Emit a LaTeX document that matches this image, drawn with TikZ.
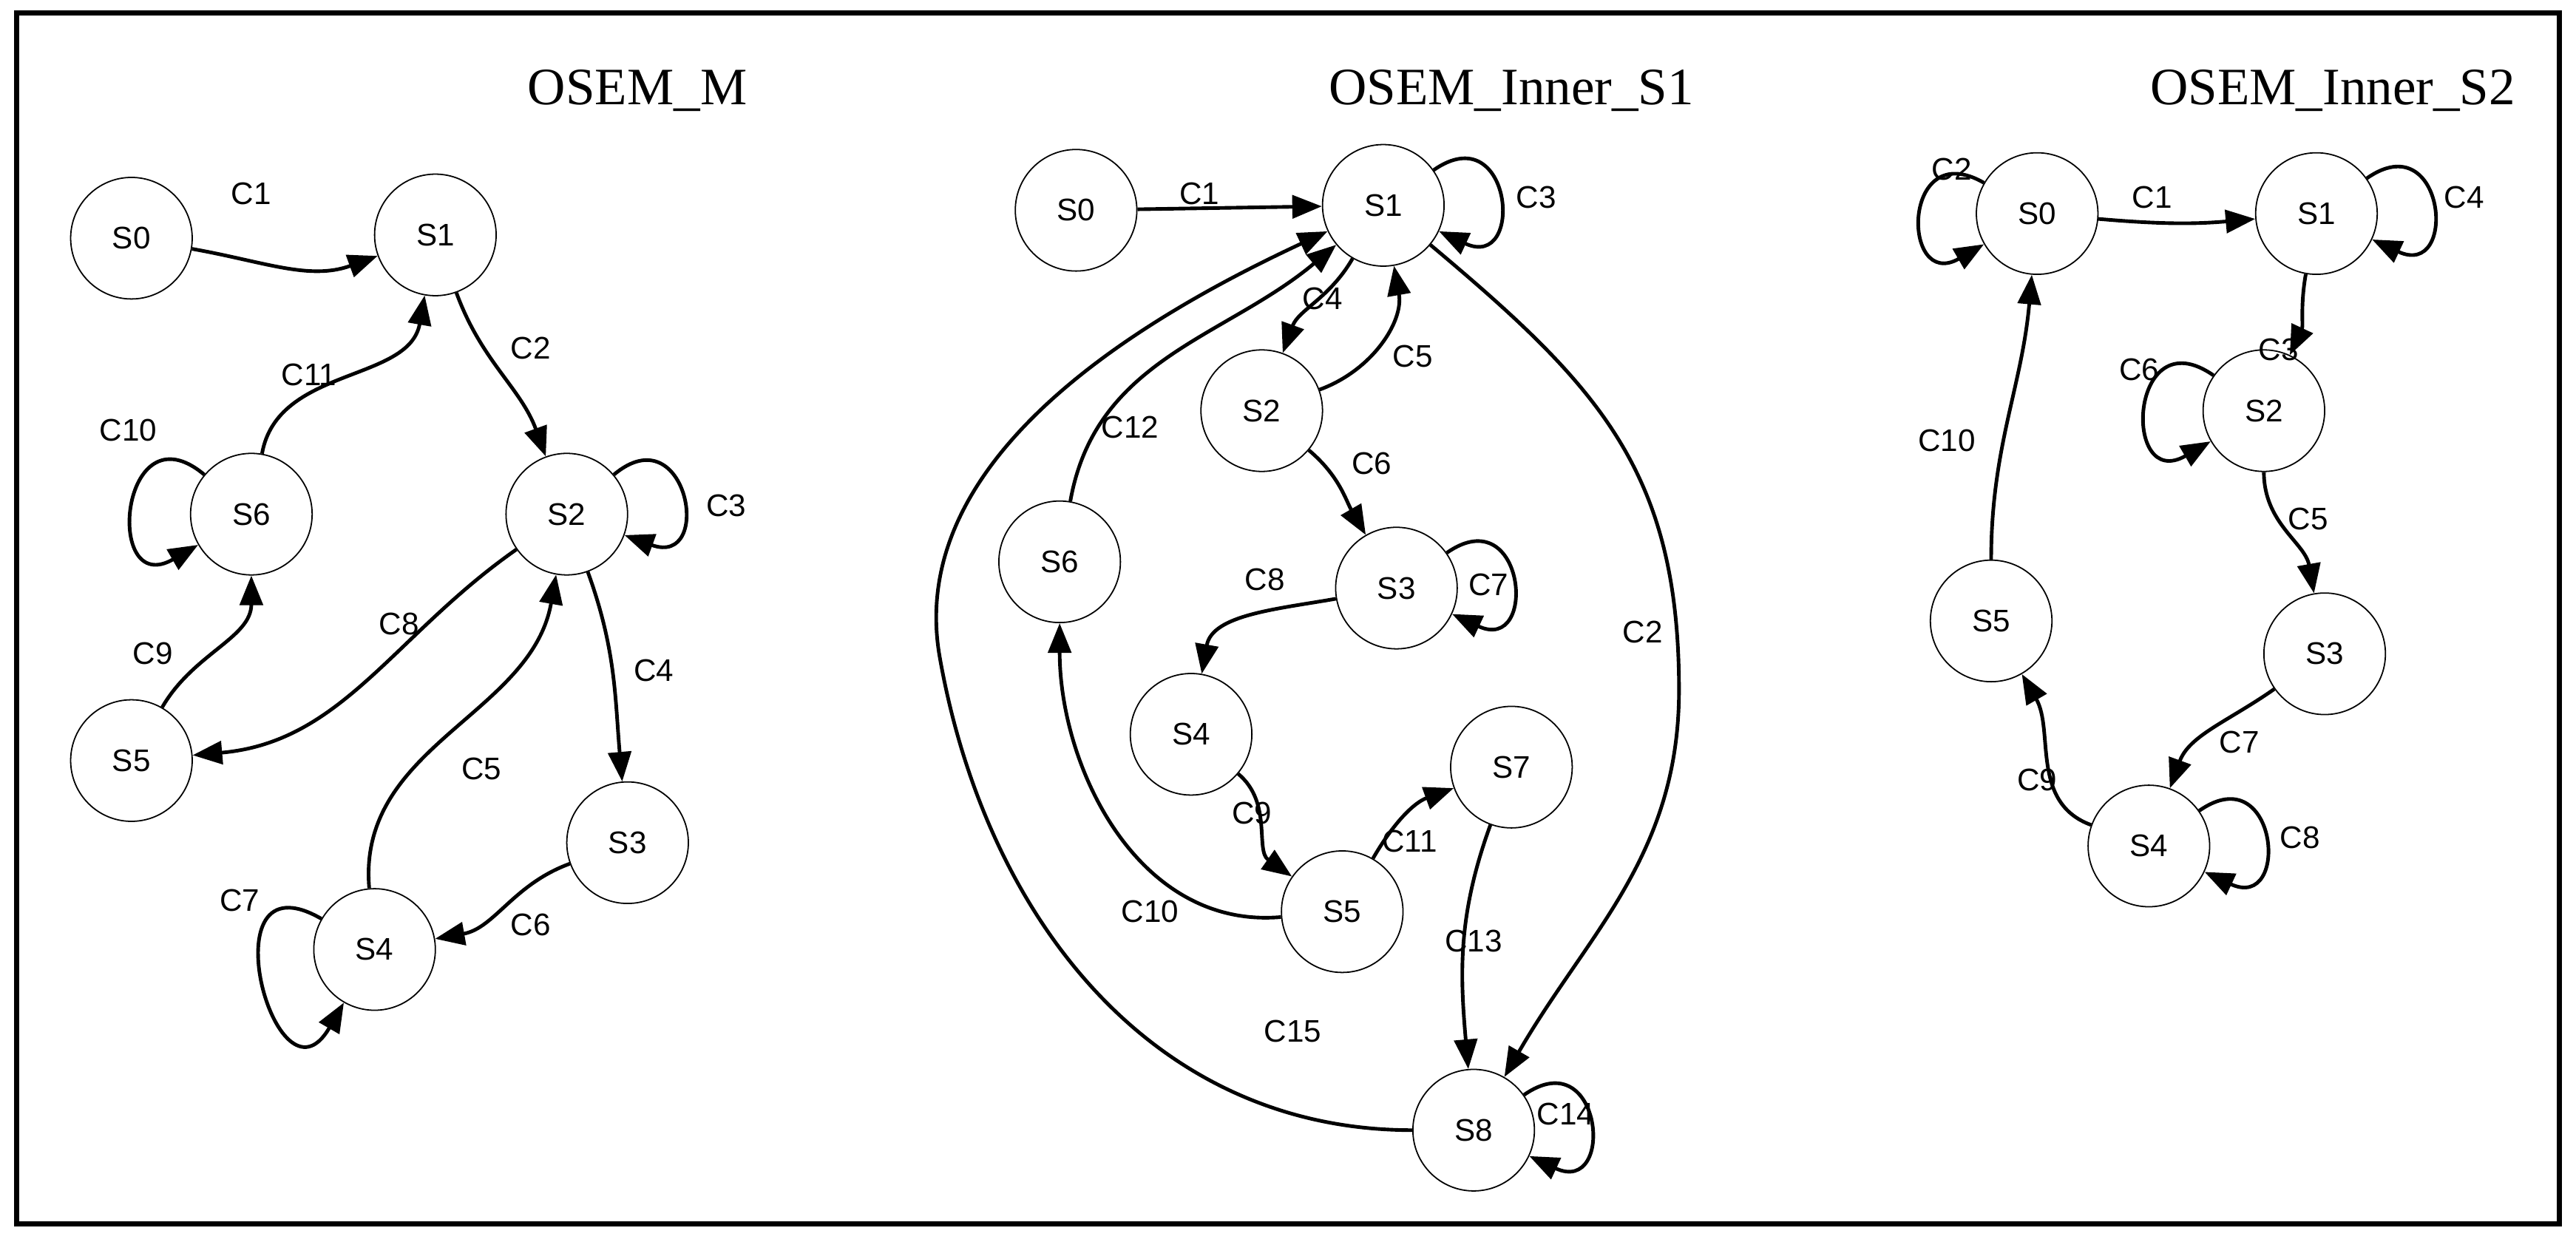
\documentclass[tikz,border=0pt]{standalone}
\usepackage{fontspec}
\setmainfont{Liberation Serif}
\newfontfamily\lblfont{Liberation Sans}
\usetikzlibrary{arrows.meta}

\tikzset{
  state/.style={draw,circle,minimum size=37pt,inner sep=0,font=\lblfont\fontsize{9.5}{11}\selectfont},
  edge/.style={line width=1.1pt,-{Triangle[length=9pt,width=7pt]}},
  self/.style={edge,looseness=4,min distance=8pt},
  lbl/.style={font=\lblfont\fontsize{9.5}{11}\selectfont},
  title/.style={font=\fontsize{16}{19}\selectfont}
}

\begin{document}
\begin{tikzpicture}[x=0.5pt,y=0.5pt]
				\useasboundingbox (0,0) rectangle (1568,-756);
				\draw[line width=1.6pt] (10,-8) rectangle (1558,-745);
				% OSEM_M
				\node[title] at (388,-55) {OSEM\_M};
				\node[state] (ms0) at (80,-145) {S0};
				\node[state] (ms1) at (265,-143) {S1};
				\node[state] (ms2) at (345,-313) {S2};
				\node[state] (ms6) at (153,-313) {S6};
				\node[state] (ms5) at (80,-463) {S5};
				\node[state] (ms3) at (382,-513) {S3};
				\node[state] (ms4) at (228,-578) {S4};
				\draw[edge] (ms0) to[out=-10,in=200] (ms1);
				\node[lbl] at (153,-118) {C1};
				\draw[edge] (ms1) to[out=-70,in=110] (ms2);
				\node[lbl] at (323,-212) {C2};
				\draw[self] (ms2) to[out=40,in=-20] (ms2);
				\node[lbl] at (442,-308) {C3};
				\draw[edge] (ms2) to[out=-70,in=95] (ms3);
				\node[lbl] at (398,-408) {C4};
				\draw[edge] (ms3) to[out=200,in=10] (ms4);
				\node[lbl] at (323,-563) {C6};
				\draw[edge] (ms4) to[out=95,in=-100] (ms2);
				\node[lbl] at (293,-468) {C5};
				\draw[edge] (ms2) to[out=215,in=5] (ms5);
				\node[lbl] at (243,-380) {C8};
				\draw[edge] (ms5) to[out=60,in=-90] (ms6);
				\node[lbl] at (93,-398) {C9};
				\draw[edge] (ms6) to[out=80,in=-100] (ms1);
				\node[lbl] at (188,-228) {C11};
				\draw[self] (ms6) to[out=140,in=210] (ms6);
				\node[lbl] at (78,-262) {C10};
				\draw[self] (ms4) to[out=150,in=240] (ms4);
				\node[lbl] at (146,-548) {C7};
				% OSEM_Inner_S1
				\node[title] at (920,-55) {OSEM\_Inner\_S1};
				\node[state] (as0) at (655,-128) {S0};
				\node[state] (as1) at (842,-125) {S1};
				\node[state] (as2) at (768,-250) {S2};
				\node[state] (as6) at (645,-342) {S6};
				\node[state] (as3) at (850,-358) {S3};
				\node[state] (as4) at (725,-447) {S4};
				\node[state] (as7) at (920,-467) {S7};
				\node[state] (as5) at (817,-555) {S5};
				\node[state] (as8) at (897,-688) {S8};
				\draw[edge] (as0) -- (as1);
				\node[lbl] at (730,-118) {C1};
				\draw[self] (as1) to[out=35,in=-25] (as1);
				\node[lbl] at (935,-120) {C3};
				\draw[edge] (as1) to[out=-120,in=70] (as2);
				\node[lbl] at (805,-182) {C4};
				\draw[edge] (as2) to[out=20,in=-80] (as1);
				\node[lbl] at (860,-217) {C5};
				\draw[edge] (as2) to[out=-40,in=120] (as3);
				\node[lbl] at (835,-282) {C6};
				\draw[self] (as3) to[out=35,in=-25] (as3);
				\node[lbl] at (906,-356) {C7};
				\draw[edge] (as3) to[out=190,in=80] (as4);
				\node[lbl] at (770,-353) {C8};
				\draw[edge] (as4) to[out=-40,in=145] (as5);
				\node[lbl] at (762,-495) {C9};
				\draw[edge] (as5) to[out=60,in=200] (as7);
				\node[lbl] at (858,-512) {C11};
				\draw[edge] (as5) to[out=185,in=-90] (as6);
				\node[lbl] at (700,-555) {C10};
				\draw[edge] (as6) to[out=80,in=220] (as1);
				\node[lbl] at (688,-260) {C12};
				\draw[edge] (as1) to[out=-40,in=90,looseness=1.1] (1022,-420) to[out=-90,in=60] (as8);
				\node[lbl] at (1000,-385) {C2};
				\draw[edge] (as7) to[out=-110,in=95] (as8);
				\node[lbl] at (897,-573) {C13};
				\draw[self] (as8) to[out=35,in=-25] (as8);
				\node[lbl] at (953,-678) {C14};
				\draw[edge] (as8) to[out=180,in=-80] (572,-400) to[out=100,in=205,looseness=0.9] (as1);
				\node[lbl] at (787,-628) {C15};
				% OSEM_Inner_S2
				\node[title] at (1420,-55) {OSEM\_Inner\_S2};
				\node[state] (bs0) at (1240,-130) {S0};
				\node[state] (bs1) at (1410,-130) {S1};
				\node[state] (bs2) at (1378,-250) {S2};
				\node[state] (bs3) at (1415,-398) {S3};
				\node[state] (bs5) at (1212,-378) {S5};
				\node[state] (bs4) at (1308,-515) {S4};
				\draw[self] (bs0) to[out=150,in=210] (bs0);
				\node[lbl] at (1188,-103) {C2};
				\draw[edge] (bs0) to[out=-5,in=185] (bs1);
				\node[lbl] at (1310,-120) {C1};
				\draw[self] (bs1) to[out=35,in=-25] (bs1);
				\node[lbl] at (1500,-120) {C4};
				\draw[edge] (bs1) to[out=-100,in=65] (bs2);
				\node[lbl] at (1387,-213) {C3};
				\draw[self] (bs2) to[out=145,in=210] (bs2);
				\node[lbl] at (1302,-225) {C6};
				\draw[edge] (bs2) to[out=-90,in=100] (bs3);
				\node[lbl] at (1405,-316) {C5};
				\draw[edge] (bs3) to[out=215,in=70] (bs4);
				\node[lbl] at (1363,-452) {C7};
				\draw[self] (bs4) to[out=35,in=-25] (bs4);
				\node[lbl] at (1400,-510) {C8};
				\draw[edge] (bs4) to[out=160,in=-60] (bs5);
				\node[lbl] at (1240,-475) {C9};
				\draw[edge] (bs5) to[out=90,in=-95] (bs0);
				\node[lbl] at (1185,-268) {C10};
\end{tikzpicture}
\end{document}
